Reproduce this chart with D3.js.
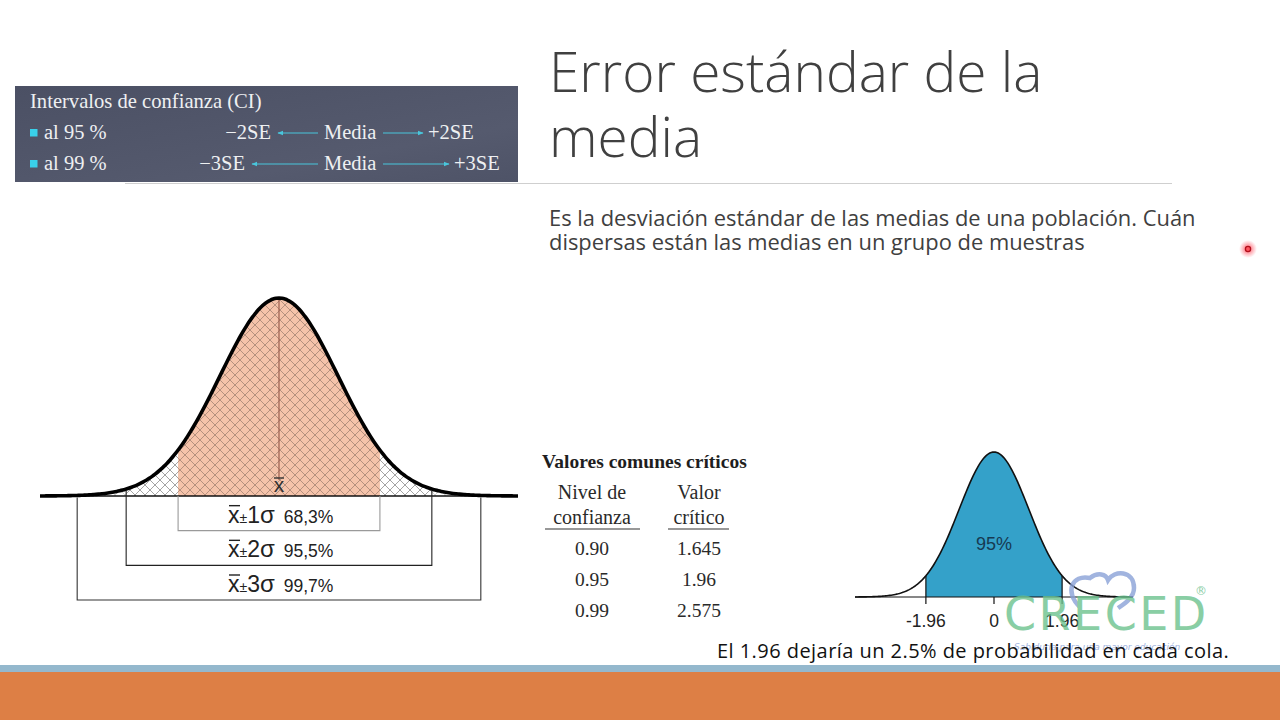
<!DOCTYPE html>
<html><head><meta charset="utf-8">
<script src="https://cdn.jsdelivr.net/npm/d3@7"></script>
<style>html,body{margin:0;padding:0;background:#fff;} svg{display:block;}</style>
</head><body>
<svg id="slide" width="1280" height="720"></svg>
<script>
// slide texts and values
var titleLines = ["Error estándar de la", "media"];
var bodyLines = ["Es la desviación estándar de las medias de una población. Cuán",
                 "dispersas están las medias en un grupo de muestras"];
var ciTitle = "Intervalos de confianza (CI)";
var ciLevels = ["al 95 %", "al 99 %"];
var ciK = [2, 3];                       // +-kSE
var sigmaK = [1, 2, 3];
var sigmaPct = ["68,3%", "95,5%", "99,7%"];
var sigmaEdge = [1.71, 2.59, 3.42];     // where each bracket sits, in sd units of the drawn bell
var tableTitle = "Valores comunes críticos";
var tableHead = [["Nivel de", "confianza"], ["Valor", "crítico"]];
var confLevels = ["0.90", "0.95", "0.99"];
var critValues = ["1.645", "1.96", "2.575"];
var zCrit = 1.96;
var zTicks = [-1.96, 0, 1.96];
var zAreaLabel = "95%";
var note = "El 1.96 dejaría un 2.5% de probabilidad en cada cola.";

var svg = d3.select("#slide");
var defs = svg.append("defs");

function pdf(z) { return Math.exp(-z * z / 2) / Math.sqrt(2 * Math.PI); }
function samples(a, b, step) {
  var s = d3.range(a, b, step);
  s.push(b);
  return s;
}

// ---------- background pieces ----------
var g1 = defs.append("linearGradient").attr("id", "boxGrad")
  .attr("x1", 0).attr("y1", 0).attr("x2", 1).attr("y2", 1);
g1.append("stop").attr("offset", "0%").attr("stop-color", "#4b5064");
g1.append("stop").attr("offset", "70%").attr("stop-color", "#555a6e");
g1.append("stop").attr("offset", "100%").attr("stop-color", "#4e5367");

svg.append("rect").attr("x", 0).attr("y", 665).attr("width", 1280).attr("height", 8).attr("fill", "#94b8cd");
svg.append("rect").attr("x", 0).attr("y", 672).attr("width", 1280).attr("height", 48).attr("fill", "#dd7f45");

svg.append("line").attr("x1", 125).attr("x2", 1172).attr("y1", 183.5).attr("y2", 183.5)
  .attr("stroke", "#cfcfcf").attr("stroke-width", 1.2);

// ---------- title + body ----------
svg.selectAll(".title").data(titleLines).enter().append("text")
  .attr("class", "title")
  .attr("x", 549).attr("y", function(d, i) { return 92 + i * 65; })
  .style("font-family", "'Open Sans', sans-serif").style("font-weight", 300)
  .style("font-size", "55px").attr("fill", "#404040")
  .text(function(d) { return d; });

svg.selectAll(".body").data(bodyLines).enter().append("text")
  .attr("class", "body")
  .attr("x", 549).attr("y", function(d, i) { return 225.5 + i * 24; })
  .style("font-family", "'Open Sans', sans-serif")
  .style("font-size", "21.9px").attr("fill", "#404040")
  .text(function(d) { return d; });

// pointer dot
var glow = defs.append("radialGradient").attr("id", "glow");
glow.append("stop").attr("offset", "0%").attr("stop-color", "#ff3a4a").attr("stop-opacity", 0.9);
glow.append("stop").attr("offset", "100%").attr("stop-color", "#ff6070").attr("stop-opacity", 0);
svg.append("circle").attr("cx", 1248).attr("cy", 249).attr("r", 9).attr("fill", "url(#glow)");
svg.append("circle").attr("cx", 1248).attr("cy", 249).attr("r", 2.6)
  .attr("fill", "#ff5560").attr("stroke", "#b0101c").attr("stroke-width", 1.3);

// ---------- CI box ----------
var serif = "'Liberation Serif', serif";
var box = svg.append("g");
box.append("rect").attr("x", 15).attr("y", 86).attr("width", 503).attr("height", 96).attr("fill", "url(#boxGrad)");
box.append("text").attr("x", 30).attr("y", 108)
  .style("font-family", serif).style("font-size", "20.6px")
  .attr("fill", "#eef0f2").text(ciTitle);

var arrowLen = d3.scaleLinear().domain([2, 3]).range([40, 66]);
var rowY = d3.scalePoint().domain(ciK).range([139, 170]);

defs.append("marker").attr("id", "ah").attr("viewBox", "0 0 10 10").attr("refX", 9).attr("refY", 5)
  .attr("markerWidth", 5).attr("markerHeight", 5).attr("orient", "auto-start-reverse")
  .append("path").attr("d", "M0,1 L10,5 L0,9 z").attr("fill", "#49c6dc");

var rows = box.selectAll(".cirow").data(ciK).enter().append("g").attr("class", "cirow")
  .style("font-family", serif).style("font-size", "20.5px").attr("fill", "#eef0f2");
rows.append("rect").attr("x", 30).attr("y", function(d) { return rowY(d) - 10; })
  .attr("width", 7.5).attr("height", 7.5).attr("fill", "#39d0ea");
rows.append("text").attr("x", 44).attr("y", function(d) { return rowY(d); })
  .text(function(d, i) { return ciLevels[i]; });
rows.append("text").attr("x", 324).attr("y", function(d) { return rowY(d); })
  .text("Media");
rows.append("text").attr("text-anchor", "end")
  .attr("x", function(d) { return 318 - arrowLen(d) - 7; }).attr("y", function(d) { return rowY(d); })
  .text(function(d) { return "\u2212" + d + "SE"; });
rows.append("text")
  .attr("x", function(d) { return 383 + arrowLen(d) + 5; }).attr("y", function(d) { return rowY(d); })
  .text(function(d) { return "+" + d + "SE"; });
rows.append("line")
  .attr("x1", 318).attr("x2", function(d) { return 318 - arrowLen(d); })
  .attr("y1", function(d) { return rowY(d) - 6; }).attr("y2", function(d) { return rowY(d) - 6; })
  .attr("stroke", "#49c6dc").attr("stroke-width", 1.2).attr("marker-end", "url(#ah)");
rows.append("line")
  .attr("x1", 383).attr("x2", function(d) { return 383 + arrowLen(d); })
  .attr("y1", function(d) { return rowY(d) - 6; }).attr("y2", function(d) { return rowY(d) - 6; })
  .attr("stroke", "#49c6dc").attr("stroke-width", 1.2).attr("marker-end", "url(#ah)");

// ---------- left bell with sigma brackets ----------
function hatch(id, color, w) {
  var p = defs.append("pattern").attr("id", id).attr("patternUnits", "userSpaceOnUse")
    .attr("width", 10).attr("height", 10);
  p.append("path").attr("d", "M-1,-1 L11,11 M-1,9 L1,11 M9,-1 L11,1 M-1,11 L11,-1 M-1,1 L1,-1 M9,11 L11,9")
    .attr("stroke", color).attr("stroke-width", w).attr("fill", "none");
}
hatch("hatchIn", "#9a7a6c", 0.7);
hatch("hatchMid", "#7d7d7d", 0.7);
hatch("hatchOut", "#b5b5b5", 0.6);

var xL = d3.scaleLinear().domain([-4.05, 4.05]).range([40, 518]);
var yL = d3.scaleLinear().domain([0, pdf(0)]).range([496, 298]);
var areaL = d3.area().x(function(d) { return xL(d); }).y0(yL(0)).y1(function(d) { return yL(pdf(d)); });
var lineL = d3.line().x(function(d) { return xL(d); }).y(function(d) { return yL(pdf(d)); })
  .curve(d3.curveBasis);

var bandFill = [["#ffffff", "url(#hatchOut)"], ["#ffffff", "url(#hatchMid)"], ["#f5c3aa", "url(#hatchIn)"]];
var left = svg.append("g");
sigmaEdge.slice().reverse().forEach(function(e, i) {
  var pts = samples(-e, e, 0.02);
  left.append("path").attr("d", areaL(pts)).attr("fill", bandFill[i][0]);
  left.append("path").attr("d", areaL(pts)).attr("fill", bandFill[i][1]);
});

left.append("line").attr("x1", xL(0)).attr("x2", xL(0)).attr("y1", yL(pdf(0))).attr("y2", 480)
  .attr("stroke", "#9b5e4e").attr("stroke-width", 1.2);
left.append("text").attr("x", xL(0)).attr("y", 492).attr("text-anchor", "middle")
  .style("font-family", "'Liberation Sans', Arial, sans-serif").style("font-size", "21px")
  .attr("fill", "#333").text("x");
left.append("line").attr("x1", xL(0) - 5).attr("x2", xL(0) + 5).attr("y1", 478).attr("y2", 478)
  .attr("stroke", "#333").attr("stroke-width", 1.4);

left.append("line").attr("x1", xL(-4.05)).attr("x2", xL(4.05)).attr("y1", yL(0)).attr("y2", yL(0))
  .attr("stroke", "#111").attr("stroke-width", 1.6);
left.append("path").attr("d", lineL(samples(-4.05, 4.05, 0.05)))
  .attr("fill", "none").attr("stroke", "#000").attr("stroke-width", 3.6);

// brackets under the curve
var yBox = d3.scaleLinear().domain([0, 3]).range([yL(0), 600]);
var bracketColor = ["#9a9a9a", "#222", "#333"];
var br = left.selectAll(".bracket").data(sigmaK).enter().append("g").attr("class", "bracket");
br.append("path")
  .attr("d", function(d, i) {
    var a = xL(-sigmaEdge[i]), b = xL(sigmaEdge[i]), t = yL(pdf(sigmaEdge[i])) + 2, bot = yBox(d);
    if (i === 0) t = yL(0);
    return "M" + a + "," + t + "V" + bot + "H" + b + "V" + t;
  })
  .attr("fill", "none").attr("stroke", function(d, i) { return bracketColor[i]; }).attr("stroke-width", 1.1);

var lab = br.append("text").attr("x", 228).attr("y", function(d) { return yBox(d) - 8; })
  .style("font-family", "'Liberation Sans', Arial, sans-serif").attr("fill", "#222");
lab.append("tspan").style("font-size", "23px").text("x");
lab.append("tspan").style("font-size", "14px").text("±");
lab.append("tspan").style("font-size", "23px").text(function(d) { return d; });
lab.append("tspan").style("font-size", "24px").text("σ");
lab.append("tspan").attr("dx", 9).style("font-size", "17.5px").text(function(d, i) { return sigmaPct[i]; });
br.append("line").attr("x1", 229).attr("x2", 240)
  .attr("y1", function(d) { return yBox(d) - 25; }).attr("y2", function(d) { return yBox(d) - 25; })
  .attr("stroke", "#222").attr("stroke-width", 1.4);

// ---------- table of critical values ----------
var tbl = svg.append("g").style("font-family", "'Liberation Serif', 'Times New Roman', serif").attr("fill", "#2a2a2a");
tbl.append("text").attr("x", 542).attr("y", 468).style("font-size", "19.5px").style("font-weight", "bold")
  .attr("fill", "#1e1e1e").text(tableTitle);
var colX = [592, 699];
var colRule = [[545, 640], [668, 729]];
tableHead.forEach(function(h, c) {
  h.forEach(function(line, j) {
    tbl.append("text").attr("x", colX[c]).attr("y", 499 + j * 25).attr("text-anchor", "middle")
      .style("font-size", "20px").text(line);
  });
  tbl.append("line").attr("x1", colRule[c][0]).attr("x2", colRule[c][1]).attr("y1", 529).attr("y2", 529)
    .attr("stroke", "#333").attr("stroke-width", 1.2);
});
var yRow = d3.scalePoint().domain(confLevels).range([555, 617]);
tbl.selectAll(".lvl").data(confLevels).enter().append("text").attr("class", "lvl")
  .attr("x", colX[0]).attr("y", function(d) { return yRow(d); }).attr("text-anchor", "middle")
  .style("font-size", "19.5px").text(function(d) { return d; });
tbl.selectAll(".crit").data(critValues).enter().append("text").attr("class", "crit")
  .attr("x", colX[1]).attr("y", function(d, i) { return yRow(confLevels[i]); }).attr("text-anchor", "middle")
  .style("font-size", "19.5px").text(function(d) { return d; });

// ---------- right bell, 95% area ----------
var xR = d3.scaleLinear().domain([-4, 4]).range([855, 1133]);
var yR = d3.scaleLinear().domain([0, pdf(0)]).range([597, 452]);
var right = svg.append("g");
right.append("path")
  .attr("d", d3.area().x(function(d) { return xR(d); }).y0(yR(0)).y1(function(d) { return yR(pdf(d)); })(samples(-zCrit, zCrit, 0.02)))
  .attr("fill", "#34a1c9");
right.append("line").attr("x1", xR(-4)).attr("x2", xR(4)).attr("y1", yR(0)).attr("y2", yR(0))
  .attr("stroke", "#111").attr("stroke-width", 1.2);
right.append("path")
  .attr("d", d3.line().x(function(d) { return xR(d); }).y(function(d) { return yR(pdf(d)); })(samples(-4, 4, 0.04)))
  .attr("fill", "none").attr("stroke", "#111").attr("stroke-width", 1.6);
right.selectAll(".tk").data(zTicks).enter().append("line").attr("class", "tk")
  .attr("x1", function(d) { return xR(d); }).attr("x2", function(d) { return xR(d); })
  .attr("y1", function(d) { return d === 0 ? yR(0) : yR(pdf(d)); }).attr("y2", yR(0) + 7)
  .attr("stroke", "#111").attr("stroke-width", 1.2);
right.selectAll(".tl").data(zTicks).enter().append("text").attr("class", "tl")
  .attr("x", function(d) { return xR(d); }).attr("y", 627).attr("text-anchor", "middle")
  .style("font-family", "'Liberation Sans', Arial, sans-serif").style("font-size", "17.5px")
  .attr("fill", "#222").text(function(d) { return d; });
right.append("text").attr("x", xR(0)).attr("y", 550).attr("text-anchor", "middle")
  .style("font-family", "'Liberation Sans', Arial, sans-serif").style("font-size", "18px")
  .attr("fill", "#173a52").text(zAreaLabel);

// ---------- watermark logo ----------
var logo = svg.append("g").attr("opacity", 0.8);
logo.append("path")
  .attr("d", "M1080,607 C1064,592 1072,574 1090,578 C1098,572 1106,574 1108,580 C1114,570 1134,570 1134,588 C1134,598 1124,604 1118,608")
  .attr("fill", "none").attr("stroke", "#8aa2d8").attr("stroke-width", 4.5);
logo.append("text").attr("x", 1004).attr("y", 630)
  .style("font-family", "'DejaVu Sans', sans-serif").style("font-size", "46px")
  .attr("letter-spacing", 2.5).attr("fill", "#6cc28e").text("CRECED");
logo.append("text").attr("x", 1201).attr("y", 595).attr("text-anchor", "middle")
  .style("font-family", "'DejaVu Sans', sans-serif").style("font-size", "12px")
  .attr("fill", "#6cc28e").text("®");
logo.append("text").attr("x", 1014).attr("y", 650)
  .style("font-family", "'DejaVu Sans', sans-serif").style("font-size", "9px").style("font-style", "italic")
  .attr("fill", "#8aa2d8").text("Sabiduría para una mayor educación");

svg.append("text").attr("x", 717).attr("y", 658)
  .style("font-family", "'Open Sans', sans-serif").style("font-size", "20px")
  .attr("letter-spacing", 0.45).attr("fill", "#111").text(note);
</script>
</body></html>
